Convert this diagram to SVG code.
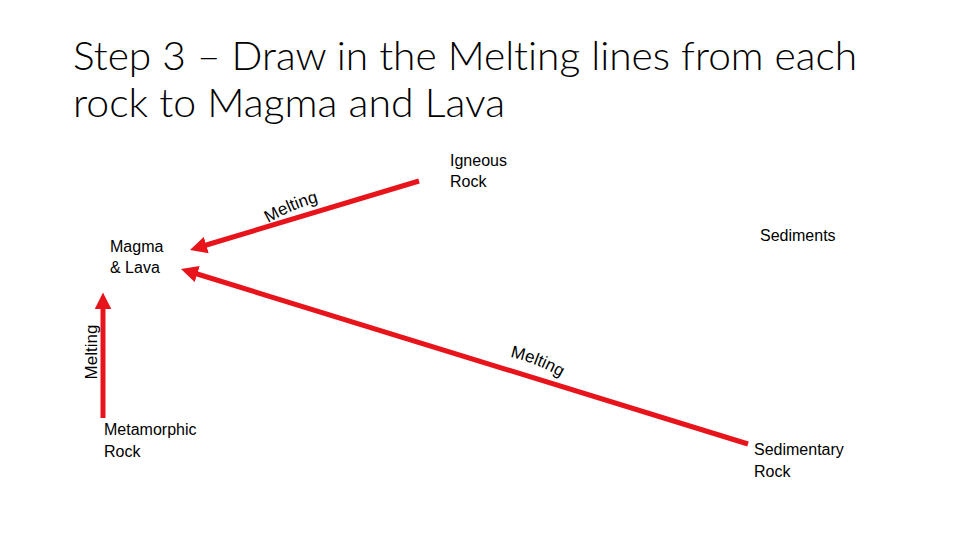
<svg xmlns="http://www.w3.org/2000/svg" width="960" height="540" viewBox="0 0 960 540">
<style>
.t{font-family:"Liberation Sans","Open Sans",sans-serif;fill:#000}
.title{font-family:Lato,"Open Sans","Liberation Sans",sans-serif;font-weight:300;font-size:40px;font-variant-ligatures:none}
.lab{font-size:16px}
.ml{font-size:17px}
.ar{stroke:#E8141B;stroke-width:5;fill:none}
</style>
<defs>
<marker id="ah" viewBox="0 0 10 10" refX="2" refY="5" markerWidth="3.4" markerHeight="3.4" orient="auto-start-reverse" markerUnits="strokeWidth">
<path d="M0,0 L10,5 L0,10 z" fill="#E8141B"/>
</marker>
<path id="c1" d="M268,223 Q298,206 330,199"/>
<path id="c2" d="M510,357 Q542,364 572,384"/>
</defs>
<rect width="960" height="540" fill="#fff"/>
<g id="title">
<text class="title" x="73" y="70" textLength="784" lengthAdjust="spacingAndGlyphs">Step 3 – Draw in the Melting lines from each</text>
<text class="title" x="73" y="117" textLength="432" lengthAdjust="spacingAndGlyphs">rock to Magma and Lava</text>
</g>
<g id="connectors">
<line class="ar" x1="419" y1="181" x2="203" y2="246" marker-end="url(#ah)"/>
<line class="ar" x1="748" y1="444" x2="194" y2="273" marker-end="url(#ah)"/>
<line class="ar" x1="103" y1="418" x2="103" y2="306" marker-end="url(#ah)"/>
<text class="t ml"><textPath href="#c1">Melting</textPath></text>
<text class="t ml"><textPath href="#c2">Melting</textPath></text>
<text class="t ml" transform="translate(97,352) rotate(-90)" text-anchor="middle">Melting</text>
</g>
<g id="igneous"><text class="t lab" x="450" y="166">Igneous</text><text class="t lab" x="450" y="187">Rock</text></g>
<g id="sediments"><text class="t lab" x="760" y="241">Sediments</text></g>
<g id="magma"><text class="t lab" x="110" y="252">Magma</text><text class="t lab" x="110" y="273">&amp; Lava</text></g>
<g id="metamorphic"><text class="t lab" x="104" y="435">Metamorphic</text><text class="t lab" x="104" y="457">Rock</text></g>
<g id="sedimentary"><text class="t lab" x="754" y="455">Sedimentary</text><text class="t lab" x="754" y="477">Rock</text></g>
</svg>
